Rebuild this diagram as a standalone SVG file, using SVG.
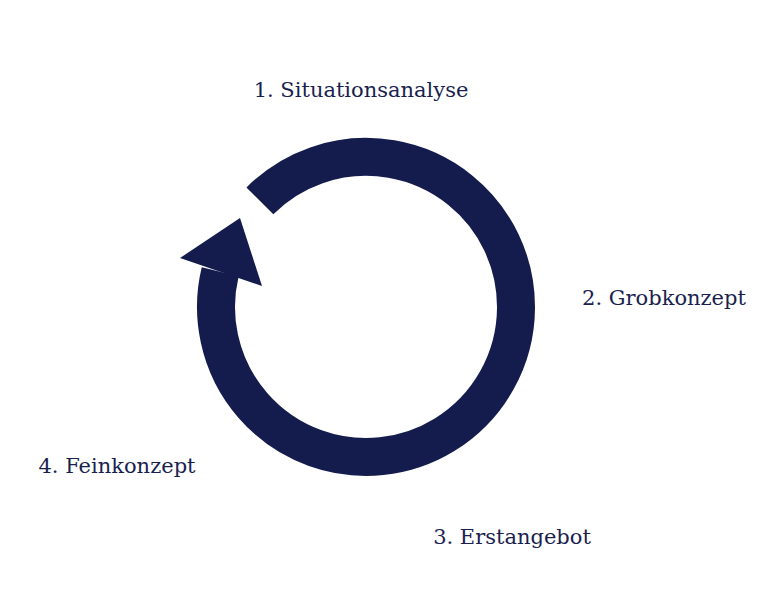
<svg xmlns="http://www.w3.org/2000/svg" width="782" height="609" viewBox="0 0 782 609">
<style>
.t{font-family:"DejaVu Serif","Liberation Serif",serif;font-size:21px;fill:#1a1f4f;font-weight:300}
</style>
<rect width="782" height="609" fill="#fff"/>
<g id="connectors">
<path d="M259.9 200.9 A150 150 0 1 1 220.2 271.7" fill="none" stroke="#141c4d" stroke-width="38"/>
<polygon points="180,258 240,218 262,286" fill="#141c4d"/>
</g>
<g id="n1"><text class="t" x="361" y="97" text-anchor="middle">1. Situationsanalyse</text></g>
<g id="n2"><text class="t" x="664" y="305" text-anchor="middle">2. Grobkonzept</text></g>
<g id="n3"><text class="t" x="512" y="544" text-anchor="middle">3. Erstangebot</text></g>
<g id="n4"><text class="t" x="117" y="473" text-anchor="middle">4. Feinkonzept</text></g>
</svg>
